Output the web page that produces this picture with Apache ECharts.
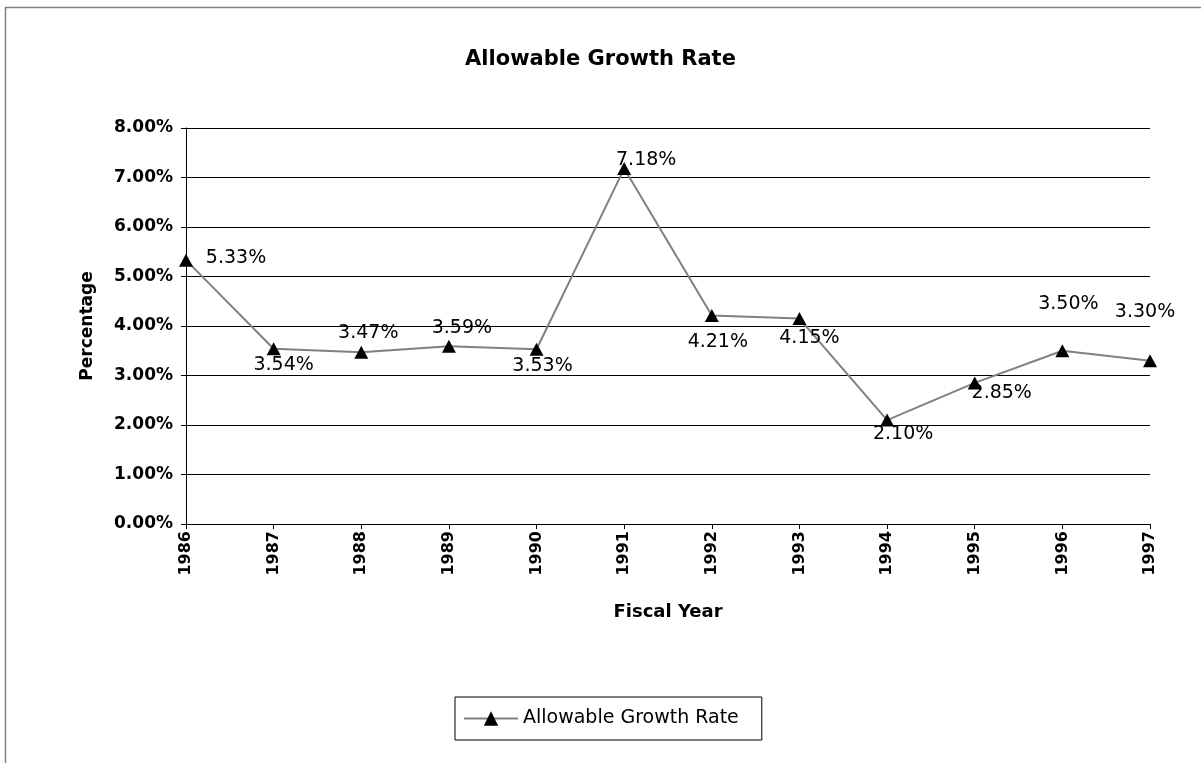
<!DOCTYPE html>
<html>
<head>
<meta charset="utf-8">
<script src="https://cdn.jsdelivr.net/npm/echarts@6/dist/echarts.min.js"></script>
<style>
html,body{margin:0;padding:0;background:#fff;}
#chart{width:1201px;height:763px;}
</style>
</head>
<body>
<div id="chart"></div>
<script>
const titleText = 'Allowable Growth Rate';
const seriesName = 'Allowable Growth Rate';
const years = ['1986','1987','1988','1989','1990','1991','1992','1993','1994','1995','1996','1997'];
const rates = [5.33, 3.54, 3.47, 3.59, 3.53, 7.18, 4.21, 4.15, 2.10, 2.85, 3.50, 3.30];
const yTicks = [0, 1, 2, 3, 4, 5, 6, 7, 8];
// label placement offsets (style only)
const labelOffsets = [[50,-2],[10,16],[7,-19],[13,-18],[6,17],[22,-9],[6,26],[10,19],[16,14],[27,10],[6,-47],[-5,-49]];

const FONT = 'DejaVu Sans';
const chart = echarts.init(document.getElementById('chart'), null, {renderer:'canvas'});
const option = {
  backgroundColor: '#fff',
  animation: false,
  graphic: [{
    type: 'rect', left: 3, top: 5, z: -10,
    shape: {width: 1400, height: 900},
    style: {fill: 'none', stroke: '#808080', lineWidth: 1.5}
  }],
  title: {
    text: titleText, left: 'center', top: 44,
    textStyle: {fontFamily: FONT, fontWeight: 'bold', fontSize: 21, color: '#000'}
  },
  legend: {
    left: 455, top: 697,
    padding: [12, 23, 12, 8],
    itemWidth: 54, itemHeight: 18, itemGap: 0,
    borderColor: '#000', borderWidth: 1,
    textStyle: {fontFamily: FONT, fontSize: 19, color: '#000'},
    data: [seriesName]
  },
  grid: {left: 186, right: 51, top: 128, bottom: 239, containLabel: false},
  xAxis: {
    type: 'category', data: years, boundaryGap: false,
    name: 'Fiscal Year', nameLocation: 'middle', nameGap: 79,
    nameTextStyle: {fontFamily: FONT, fontWeight: 'bold', fontSize: 18, color: '#000'},
    axisLine: {lineStyle: {color: '#000', width: 1}},
    axisTick: {show: true, length: 5, lineStyle: {color: '#000'}, alignWithLabel: true},
    axisLabel: {rotate: 90, margin: 7, fontFamily: FONT, fontWeight: 'bold', fontSize: 16, color: '#000', interval: 0},
    splitLine: {show: false}
  },
  yAxis: {
    type: 'value', min: yTicks[0], max: yTicks[yTicks.length-1], interval: 1,
    name: 'Percentage', nameLocation: 'middle', nameGap: 90, nameRotate: 90,
    nameTextStyle: {fontFamily: FONT, fontWeight: 'bold', fontSize: 17, color: '#000'},
    axisLine: {show: true, lineStyle: {color: '#000', width: 1}},
    axisTick: {show: true, length: 5, lineStyle: {color: '#000'}},
    axisLabel: {margin: 13, fontFamily: FONT, fontWeight: 'bold', fontSize: 17, color: '#000',
      formatter: v => v.toFixed(2) + '%'},
    splitLine: {show: true, lineStyle: {color: '#000', width: 1}}
  },
  series: [{
    name: seriesName, type: 'line',
    data: rates,
    symbol: 'triangle', symbolSize: [14, 13],
    itemStyle: {color: '#000'},
    lineStyle: {color: '#808080', width: 2},
    label: {
      show: true, position: 'inside',
      fontFamily: FONT, fontSize: 19, color: '#000',
      formatter: p => p.value.toFixed(2) + '%'
    },
    labelLayout: p => ({
      dx: labelOffsets[p.dataIndex][0],
      dy: labelOffsets[p.dataIndex][1],
      hideOverlap: false
    })
  }]
};
chart.setOption(option);
</script>
</body>
</html>
